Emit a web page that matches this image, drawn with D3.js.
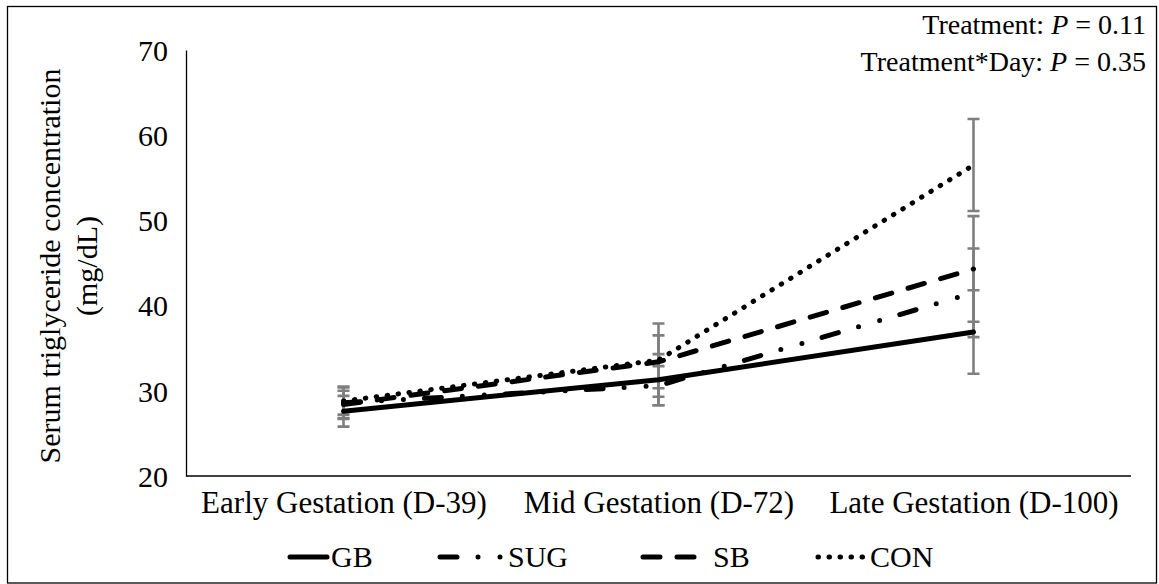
<!DOCTYPE html>
<html>
<head>
<meta charset="utf-8">
<script src="https://cdn.jsdelivr.net/npm/d3@7"></script>
<style>
  body { margin: 0; background: #fff; }
  svg { display: block; }
  text { font-family: "Liberation Serif", "Times New Roman", serif; fill: #000; }
</style>
</head>
<body>
<svg id="chart" width="1159" height="584"></svg>
<script>
// Sampling days across gestation
const categories = ["Early Gestation (D-39)", "Mid Gestation (D-72)", "Late Gestation (D-100)"];
const yTicks = [20, 30, 40, 50, 60, 70];

// Treatment means (mg/dL) and their standard errors
const seriesNames = ["GB", "SUG", "SB", "CON"];
const gbMean  = [27.6, 31.3, 36.9];
const gbErr   = [1.8, 3.0, 4.9];
const sugMean = [28.6, 30.6, 41.5];
const sugErr  = [1.9, 2.3, 5.2];
const sbMean  = [28.4, 33.4, 44.3];
const sbErr   = [1.6, 3.1, 6.2];
const conMean = [28.8, 33.6, 56.5];
const conErr  = [1.6, 4.3, 5.4];

const annotations = ["Treatment: |P| = 0.11", "Treatment*Day: |P| = 0.35"];

const series = [
  { name: seriesNames[0], mean: gbMean,  err: gbErr },
  { name: seriesNames[1], mean: sugMean, err: sugErr },
  { name: seriesNames[2], mean: sbMean,  err: sbErr },
  { name: seriesNames[3], mean: conMean, err: conErr }
];

// Line styles per treatment
const lineWidth = 5;
const dashStyle = {
  GB:  null,
  SUG: "17 21 0 22 0 21",
  SB:  "17 17",
  CON: "0.5 10.5"
};

const plot = { left: 186, right: 1131, top: 50, bottom: 476 };

const svg = d3.select("#chart");

// Outer frame
svg.append("rect")
  .attr("x", 7.5).attr("y", 6.5)
  .attr("width", 1149).attr("height", 576.5)
  .attr("fill", "none").attr("stroke", "#000").attr("stroke-width", 1.3);

const x = d3.scalePoint().domain(categories).range([plot.left, plot.right]).padding(0.5);
const y = d3.scaleLinear().domain([20, 70]).range([plot.bottom, plot.top]);

// Y axis: labels only, plus the axis line
const yAxis = d3.axisLeft(y).tickValues(yTicks).tickSize(0).tickPadding(18).tickFormat(d3.format("d"));
const gy = svg.append("g").attr("transform", `translate(${plot.left},0)`).call(yAxis);
gy.select(".domain").attr("stroke", "#000").attr("stroke-width", 1.3);
gy.selectAll("text").style("font-size", "30px").style("font-family", '"Liberation Serif", serif').attr("dy", "0.34em");

// X axis line and category labels
const xAxis = d3.axisBottom(x).tickSize(0).tickPadding(0);
const gx = svg.append("g").attr("transform", `translate(0,${plot.bottom})`).call(xAxis);
gx.select(".domain").attr("d", `M${plot.left},0H${plot.right}`).attr("stroke", "#000").attr("stroke-width", 1.3);
gx.selectAll("text").style("font-size", "31px").style("font-family", '"Liberation Serif", serif')
  .attr("y", 37).attr("dy", 0);

// Y axis title
const title = svg.append("text")
  .attr("transform", `translate(0,${(plot.top + plot.bottom) / 2 + 3}) rotate(-90)`)
  .attr("text-anchor", "middle")
  .style("font-size", "30px");
title.append("tspan").attr("x", 0).attr("y", 60).text("Serum triglyceride concentration");
title.append("tspan").attr("x", 0).attr("y", 97).text("(mg/dL)");

// Error bars
const capHalf = 6;
const errG = svg.append("g").attr("stroke", "#7f7f7f").attr("stroke-width", 2.6).attr("fill", "none");
series.forEach(s => {
  categories.forEach((c, i) => {
    const cx = x(c), hi = y(s.mean[i] + s.err[i]), lo = y(s.mean[i] - s.err[i]);
    errG.append("path").attr("d", `M${cx},${hi}V${lo}M${cx - capHalf},${hi}H${cx + capHalf}M${cx - capHalf},${lo}H${cx + capHalf}`);
  });
});

// Treatment lines
const line = d3.line().x((d, i) => x(categories[i])).y(d => y(d));
series.forEach(s => {
  svg.append("path")
    .datum(s.mean)
    .attr("d", line)
    .attr("fill", "none")
    .attr("stroke", "#000")
    .attr("stroke-width", lineWidth)
    .attr("stroke-linecap", "round")
    .attr("stroke-linejoin", "round")
    .attr("stroke-dasharray", dashStyle[s.name]);
});

// Legend
const legendY = 557;
const legendItems = [
  { name: "GB",  x0: 290, x1: 327, tx: 331 },
  { name: "SUG", x0: 440, x1: 502, tx: 508 },
  { name: "SB",  x0: 643, x1: 709, tx: 713 },
  { name: "CON", x0: 818, x1: 866, tx: 870 }
];
const lg = svg.append("g");
legendItems.forEach(it => {
  lg.append("path")
    .attr("d", `M${it.x0},${legendY}H${it.x1}`)
    .attr("fill", "none").attr("stroke", "#000")
    .attr("stroke-width", lineWidth).attr("stroke-linecap", "round")
    .attr("stroke-dasharray", dashStyle[it.name]);
  lg.append("text")
    .attr("x", it.tx).attr("y", legendY + 10)
    .style("font-size", "30px")
    .text(it.name);
});

// Significance annotations, italic P
annotations.forEach((a, k) => {
  const parts = a.split("|");
  const t = svg.append("text")
    .attr("x", 1146).attr("y", 34 + k * 37)
    .attr("text-anchor", "end")
    .style("font-size", "28px");
  parts.forEach((p, j) => {
    t.append("tspan").style("font-style", j === 1 ? "italic" : "normal").text(p);
  });
});
</script>
</body>
</html>
